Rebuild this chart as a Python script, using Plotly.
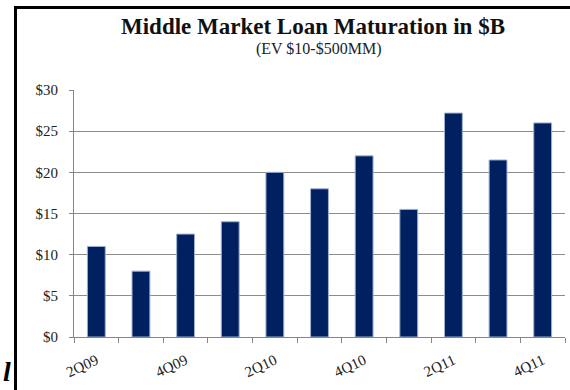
import plotly.graph_objects as go

categories = ["2Q09", "3Q09", "4Q09", "1Q10", "2Q10", "3Q10", "4Q10", "1Q11", "2Q11", "3Q11", "4Q11"]
tick_labels = ["2Q09", "", "4Q09", "", "2Q10", "", "4Q10", "", "2Q11", "", "4Q11"]
values = [11, 8, 12.5, 14, 20, 18, 22, 15.5, 27.2, 21.5, 26]
y_ticks = [0, 5, 10, 15, 20, 25, 30]
y_tick_labels = ["$0", "$5", "$10", "$15", "$20", "$25", "$30"]

title = "<b>Middle Market Loan Maturation in $B</b>"
subtitle = "(EV $10-$500MM)"

SERIF = "Liberation Serif"

fig = go.Figure(
    go.Bar(
        x=categories,
        y=values,
        marker=dict(color="#002060", line=dict(color="#9fb0d2", width=1)),
    )
)

W, H = 570, 390
L, R, T, B = 74, 5, 90, 53
pw, ph = W - L - R, H - T - B


def px_x(px):
    return (px - L) / pw


def px_y(py):
    return 1 - (py - T) / ph


fig.update_layout(
    width=W,
    height=H,
    margin=dict(l=L, r=R, t=T, b=B),
    paper_bgcolor="white",
    plot_bgcolor="white",
    bargap=0.6,
    showlegend=False,
    font=dict(family=SERIF, color="#222222", size=14),
    xaxis=dict(
        type="category",
        tickmode="array",
        tickvals=categories,
        ticktext=tick_labels,
        tickangle=-25,
        ticks="outside",
        tickson="boundaries",
        ticklen=5,
        tickcolor="#868686",
        showline=True,
        linecolor="#868686",
        linewidth=1,
        showgrid=False,
        ticklabelstandoff=8,
        tickfont=dict(family=SERIF, size=15, color="#222222"),
    ),
    yaxis=dict(
        range=[0, 30],
        tickmode="array",
        tickvals=y_ticks,
        ticktext=y_tick_labels,
        ticks="outside",
        ticklen=4,
        tickcolor="#868686",
        showline=True,
        linecolor="#868686",
        linewidth=1,
        showgrid=True,
        gridcolor="#8c8c8c",
        gridwidth=1,
        zeroline=False,
        ticklabelstandoff=8,
        tickfont=dict(family=SERIF, size=15, color="#222222"),
    ),
    annotations=[
        dict(
            text=title,
            xref="paper", yref="paper",
            x=px_x(313), y=px_y(26),
            xanchor="center", yanchor="middle",
            showarrow=False,
            font=dict(family=SERIF, size=23, color="#111111"),
        ),
        dict(
            text=subtitle,
            xref="paper", yref="paper",
            x=px_x(318), y=px_y(49),
            xanchor="center", yanchor="middle",
            showarrow=False,
            font=dict(family=SERIF, size=16, color="#222222"),
        ),
        dict(
            text="<b><i>l</i></b>",
            xref="paper", yref="paper",
            x=px_x(7), y=px_y(371),
            xanchor="center", yanchor="middle",
            showarrow=False,
            font=dict(family=SERIF, size=28, color="#000000"),
        ),
    ],
    shapes=[
        dict(type="line", xref="paper", yref="paper",
             x0=px_x(15.5), x1=px_x(15.5), y0=px_y(6.5), y1=px_y(400),
             line=dict(color="black", width=3)),
        dict(type="line", xref="paper", yref="paper",
             x0=px_x(14), x1=px_x(580), y0=px_y(7.5), y1=px_y(7.5),
             line=dict(color="black", width=3)),
    ],
)

fig.write_html("out.html")
